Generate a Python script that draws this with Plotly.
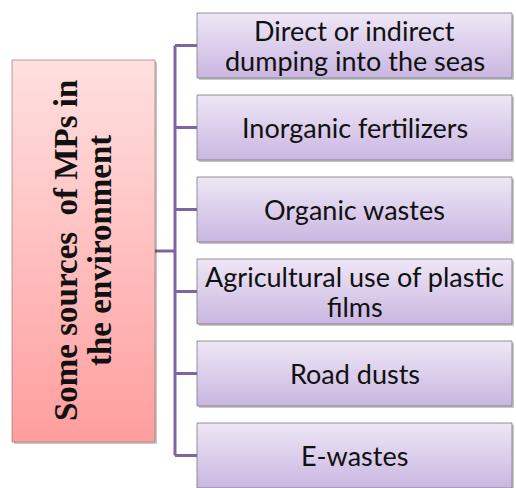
import plotly.graph_objects as go

# ---- content ----
title_lines = ["Some sources  of MPs in", "the environment"]
sources = [
    ["Direct or indirect", "dumping into the seas"],
    ["Inorganic fertilizers"],
    ["Organic wastes"],
    ["Agricultural use of plastic", "films"],
    ["Road dusts"],
    ["E-wastes"],
]

# ---- layout constants (pixel space) ----
W, H = 516, 488
LEFT_BOX = (12, 155, 60, 442)      # x0, x1, y0, y1
BOX_X0, BOX_X1 = 197, 512
BOX_TOP0, BOX_PITCH, BOX_H = 13, 82, 65
TRUNK_X = 175
LINE_GAP = 30
CONNECT = "#8064A2"

fig = go.Figure()


def add_box(x0, x1, y0, y1, c_top, c_bot, border):
    # shadow
    fig.add_trace(go.Scatter(
        x=[x0 + 2, x1 + 2, x1 + 2, x0 + 2, x0 + 2],
        y=[y0 + 2, y0 + 2, y1 + 2, y1 + 2, y0 + 2],
        mode="lines", fill="toself", fillcolor="rgba(0,0,0,0.22)",
        line=dict(width=0), hoverinfo="skip", showlegend=False))
    fig.add_trace(go.Scatter(
        x=[x0, x1, x1, x0, x0], y=[y0, y0, y1, y1, y0],
        mode="lines", fill="toself",
        fillgradient=dict(type="vertical",
                          colorscale=[[0, c_bot], [1, c_top]]),
        line=dict(color=border, width=1), hoverinfo="skip", showlegend=False))


# connectors
n = len(sources)
centers = [BOX_TOP0 + i * BOX_PITCH + BOX_H / 2 for i in range(n)]
left_mid = (LEFT_BOX[2] + LEFT_BOX[3]) / 2
fig.add_trace(go.Scatter(x=[TRUNK_X, TRUNK_X], y=[centers[0], centers[-1]],
                         mode="lines", line=dict(color=CONNECT, width=3),
                         hoverinfo="skip", showlegend=False))
fig.add_trace(go.Scatter(x=[LEFT_BOX[1], TRUNK_X], y=[left_mid, left_mid],
                         mode="lines", line=dict(color=CONNECT, width=3),
                         hoverinfo="skip", showlegend=False))
for cy in centers:
    fig.add_trace(go.Scatter(x=[TRUNK_X, BOX_X0], y=[cy, cy],
                             mode="lines", line=dict(color=CONNECT, width=3),
                             hoverinfo="skip", showlegend=False))

# left box
add_box(*LEFT_BOX, "#FFE0E0", "#FF9E9E", "rgba(150,100,100,0.6)")

# right boxes
annotations = []
for i, lines in enumerate(sources):
    y0 = BOX_TOP0 + i * BOX_PITCH
    add_box(BOX_X0, BOX_X1, y0, y0 + BOX_H, "#EEE7F6", "#CAB6E1",
            "rgba(120,120,120,0.8)")
    cy = centers[i]
    k = len(lines)
    for j, t in enumerate(lines):
        annotations.append(dict(
            x=(BOX_X0 + BOX_X1) / 2, y=cy + (j - (k - 1) / 2) * LINE_GAP,
            text=t, showarrow=False, xanchor="center", yanchor="middle",
            font=dict(family="Lato", size=27, color="#111111")))

# left title (rotated)
for j, t in enumerate(title_lines):
    annotations.append(dict(
        x=66 + j * 34, y=left_mid, text="<b>" + t + "</b>", showarrow=False,
        textangle=-90, xanchor="center", yanchor="middle",
        font=dict(family="Liberation Serif", size=33, color="#111111")))

fig.update_layout(
    width=W, height=H, margin=dict(l=0, r=0, t=0, b=0),
    paper_bgcolor="white", plot_bgcolor="white",
    xaxis=dict(range=[0, W], visible=False, fixedrange=True),
    yaxis=dict(range=[H, 0], visible=False, fixedrange=True),
    annotations=annotations, showlegend=False,
)

fig.write_html("out.html", config={"displayModeBar": False},
               post_script="document.body.style.margin='0';document.body.style.overflow='hidden';")
